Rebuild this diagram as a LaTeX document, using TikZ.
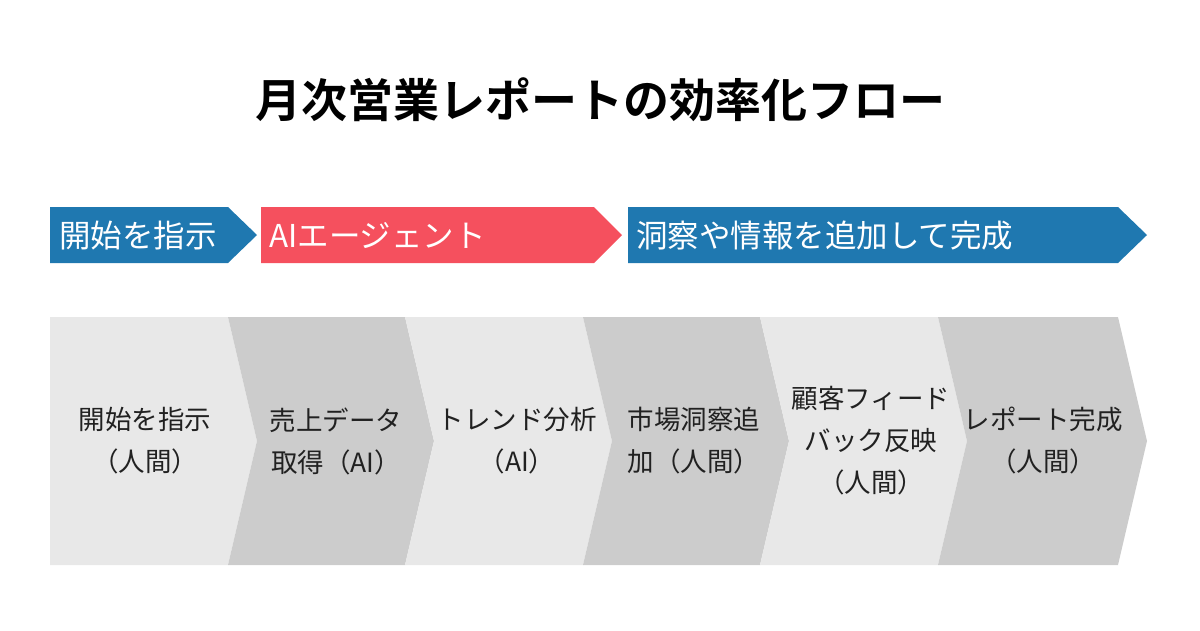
\documentclass[tikz,border=0pt]{standalone}
\usepackage{fontspec}
\setmainfont{Noto Sans CJK JP}
\newfontfamily\jpb{Noto Sans CJK JP Bold}
\begin{document}
\begin{tikzpicture}[x=1pt,y=-1pt,
  ban/.style={white,font=\fontsize{31.5}{34}\selectfont,anchor=west,inner sep=0},
  lab/.style={text=black!87,font=\fontsize{26.5}{42}\selectfont,align=center,inner sep=0},
  light/.style={fill=black!9},dark/.style={fill=black!20}]
\definecolor{bblue}{HTML}{1F78B0}\definecolor{rred}{HTML}{F5505E}
\useasboundingbox (0,0) rectangle (1200,630);
\node[font=\jpb\fontsize{46}{48}\selectfont,inner sep=0] (title) at (600,100) {月次営業レポートの効率化フロー};
% banners
\fill[bblue] (50,207) -- (228,207) -- (257,235) -- (228,263) -- (50,263) -- cycle;
\fill[rred] (261,207) -- (594,207) -- (622,235) -- (594,263) -- (261,263) -- cycle;
\fill[bblue] (628,207) -- (1118,207) -- (1147,235) -- (1118,263) -- (628,263) -- cycle;
\node[ban] (b1) at (59,236) {開始を指示};
\node[ban] (b2) at (269,236) {AIエージェント};
\node[ban] (b3) at (636,236) {洞察や情報を追加して完成};
% chevrons
\fill[light] (50,317) -- (228,317) -- (257,441) -- (228,565) -- (50,565) -- cycle;
\fill[dark] (228,317) -- (405,317) -- (434,441) -- (405,565) -- (228,565) -- (257,441) -- cycle;
\fill[light] (405,317) -- (583,317) -- (612,441) -- (583,565) -- (405,565) -- (434,441) -- cycle;
\fill[dark] (583,317) -- (760,317) -- (789,441) -- (760,565) -- (583,565) -- (612,441) -- cycle;
\fill[light] (760,317) -- (938,317) -- (967,441) -- (938,565) -- (760,565) -- (789,441) -- cycle;
\fill[dark] (938,317) -- (1118,317) -- (1147,441) -- (1118,565) -- (938,565) -- (967,441) -- cycle;
\node[lab] (s1) at (145,441) {開始を指示\\（人間）};
\node[lab] (s2) at (336,441) {売上データ\\取得（AI）};
\node[lab] (s3) at (517,441) {トレンド分析\\（AI）};
\node[lab] (s4) at (694,441) {市場洞察追\\加（人間）};
\node[lab] (s5) at (871,441) {顧客フィード\\バック反映\\（人間）};
\node[lab] (s6) at (1043,441) {レポート完成\\（人間）};
\end{tikzpicture}
\end{document}
